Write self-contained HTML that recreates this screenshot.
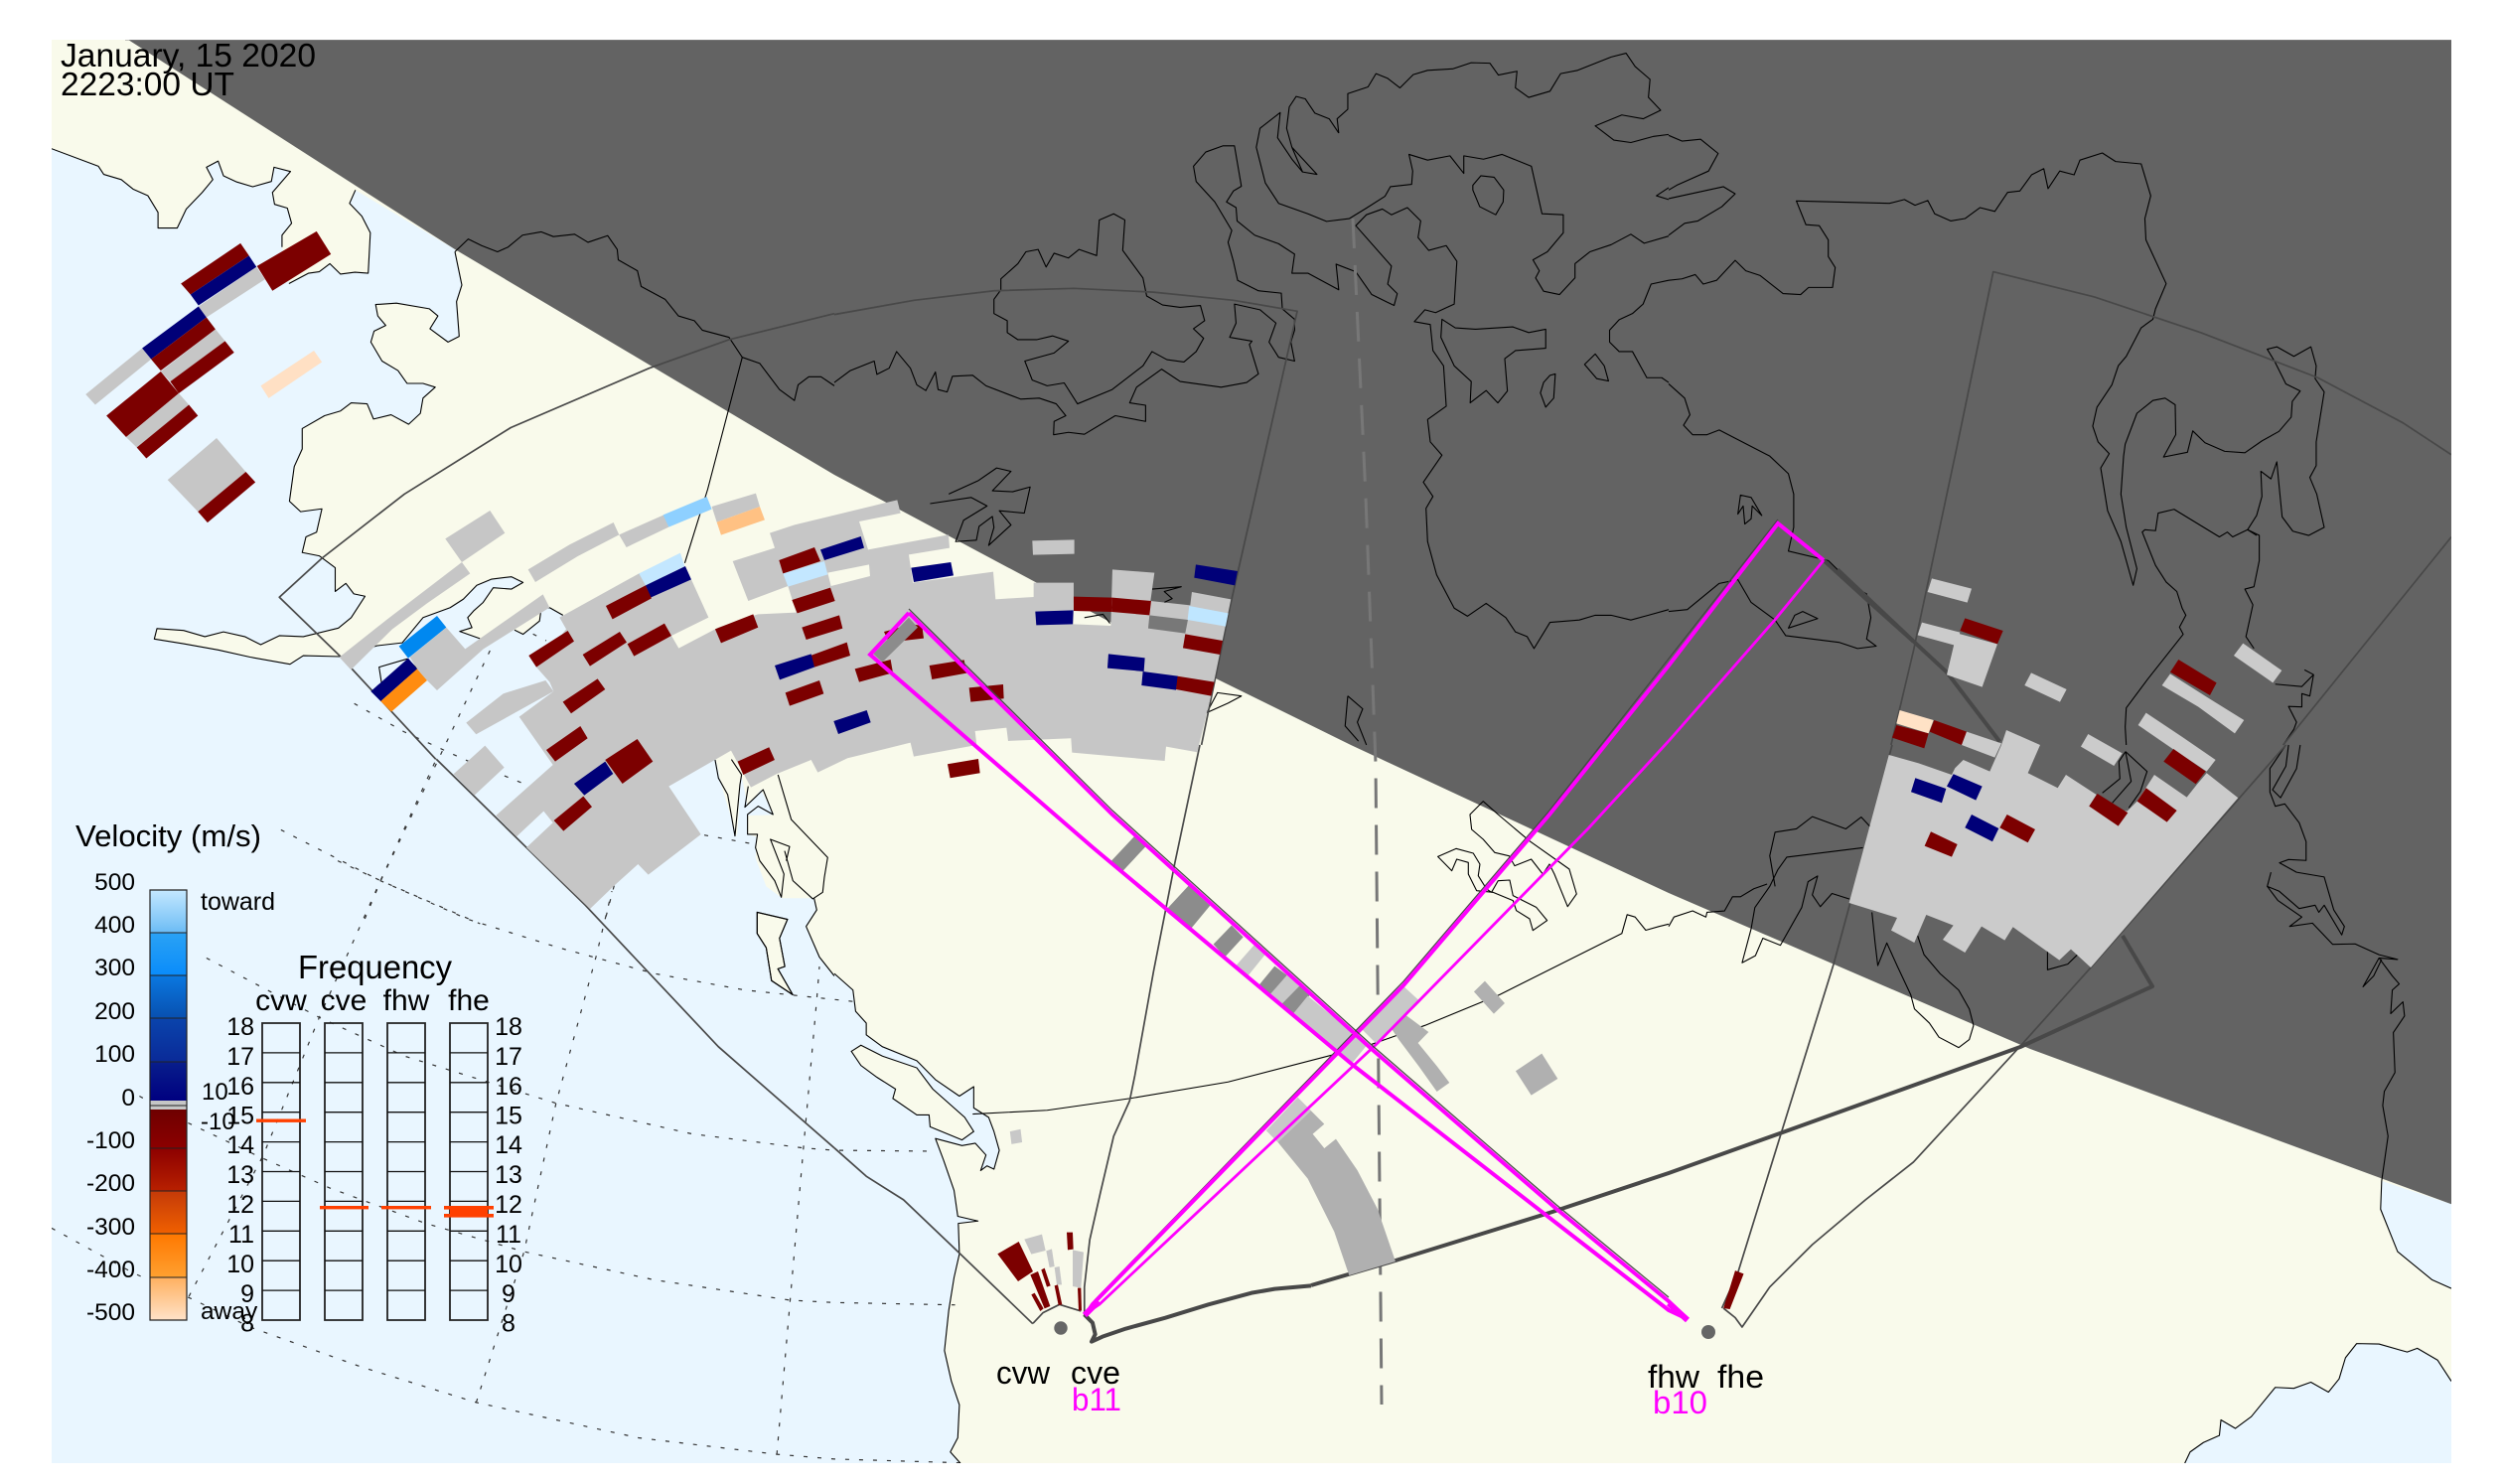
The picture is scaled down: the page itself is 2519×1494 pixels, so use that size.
<!DOCTYPE html>
<html><head><meta charset="utf-8"><style>
html,body{margin:0;padding:0;background:#fff}
svg{display:block}
svg *{vector-effect:non-scaling-stroke}
text{font-family:"Liberation Sans",sans-serif;fill:#000;stroke:none}
.o{fill:#e9f6ff;stroke:none}
.c polyline,.c polygon{fill:none;stroke:#000;stroke-width:1.1;stroke-linejoin:round}
.l{fill:#f9faeb;stroke:#000;stroke-width:1.1}
.d polyline{fill:none;stroke:#333;stroke-width:1.2;stroke-dasharray:4 10}
.f polyline{fill:none;stroke:#484848;stroke-width:1.7;stroke-linejoin:round}
.t polyline{fill:none;stroke:#484848;stroke-width:4;stroke-linejoin:round}
.r{fill:#7c0000}.n{fill:#000078}.g{fill:#c6c6c6}.h{fill:#cbcbcb}.b{fill:#b0b0b0}.k{fill:#8c8c8c}.y{fill:#f9faeb}
.m{fill:none;stroke:#ff00ff;stroke-linejoin:miter}
</style></head><body>
<svg width="2519" height="1494" viewBox="0 0 2519 1494" xmlns="http://www.w3.org/2000/svg">
<defs>
<linearGradient id="a1" x1="0" y1="0" x2="0" y2="1"><stop offset="0" stop-color="#c4e8ff"/><stop offset="1" stop-color="#6cbcf5"/></linearGradient>
<linearGradient id="a2" x1="0" y1="0" x2="0" y2="1"><stop offset="0" stop-color="#2aa2f5"/><stop offset="1" stop-color="#0a8cfa"/></linearGradient>
<linearGradient id="a3" x1="0" y1="0" x2="0" y2="1"><stop offset="0" stop-color="#0a78e0"/><stop offset="1" stop-color="#0850b0"/></linearGradient>
<linearGradient id="a4" x1="0" y1="0" x2="0" y2="1"><stop offset="0" stop-color="#0a44ac"/><stop offset="1" stop-color="#0a2a98"/></linearGradient>
<linearGradient id="a5" x1="0" y1="0" x2="0" y2="1"><stop offset="0" stop-color="#081e8c"/><stop offset="1" stop-color="#000080"/></linearGradient>
<linearGradient id="a6" x1="0" y1="0" x2="0" y2="1"><stop offset="0" stop-color="#6e0000"/><stop offset="1" stop-color="#8c0000"/></linearGradient>
<linearGradient id="a7" x1="0" y1="0" x2="0" y2="1"><stop offset="0" stop-color="#8c0000"/><stop offset="1" stop-color="#b82000"/></linearGradient>
<linearGradient id="a8" x1="0" y1="0" x2="0" y2="1"><stop offset="0" stop-color="#c43a08"/><stop offset="1" stop-color="#f06000"/></linearGradient>
<linearGradient id="a9" x1="0" y1="0" x2="0" y2="1"><stop offset="0" stop-color="#ff7800"/><stop offset="1" stop-color="#ffa030"/></linearGradient>
<linearGradient id="a10" x1="0" y1="0" x2="0" y2="1"><stop offset="0" stop-color="#ffb060"/><stop offset="1" stop-color="#ffe2c8"/></linearGradient>
<clipPath id="plot"><rect x="52" y="40" width="2416" height="1433"/></clipPath>
</defs>
<g clip-path="url(#plot)">
<rect x="52" y="40" width="2416" height="1433" fill="#f9faeb"/>
<!-- oceans -->
<g transform="translate(0,0) scale(.5357,.4783)"><polygon class="o" points="97,313 185,350 195,367 228,378 250,398 278,412 297,447 297,480 333,480 350,440 380,405 400,378 388,352 410,339 420,370 445,383 475,393 510,382 515,352 546,361 512,405 516,430 540,438 548,470 530,495 530,520 543,597 580,575 600,572 620,555 640,577 667,573 692,575 696,490 680,455 657,428 668,400 855,525 868,600 858,635 863,708 842,720 808,692 823,665 807,650 745,638 706,641 710,665 725,685 703,697 697,720 718,760 748,780 765,807 795,807 818,815 795,838 790,870 768,893 735,873 702,882 690,850 660,848 640,865 610,875 568,902 568,945 553,982 544,1055 565,1077 605,1071 595,1120 575,1130 568,1163 600,1170 630,1195 630,1245 650,1228 665,1250 686,1255 660,1300 636,1322 570,1340 525,1338 490,1357 460,1340 420,1330 385,1340 345,1327 295,1323 290,1345 345,1355 410,1368 470,1383 545,1398 570,1380 640,1382 709,1359 756,1353 795,1300 846,1279 871,1261 896,1232 924,1219 961,1214 983,1226 961,1240 927,1237 908,1268 890,1286 879,1300 887,1321 864,1329 902,1344 967,1326 983,1335 1014,1307 1017,1282 1033,1279 1058,1295 1058,1570 97,1570"/></g>
<polygon class="o" points="566,619 720,764 566,764"/>
<g transform="translate(0,750) scale(.5357,.4745)"><polygon class="o" points="97,-2 1058,-2 1345,30 1357,90 1385,195 1393,60 1405,130 1430,95 1455,148 1405,150 1405,190 1422,195 1420,240 1440,300 1470,325 1530,325 1535,350 1515,385 1540,450 1568,490 1570,1526 97,1526"/>
<polygon class="l" points="1423,355 1480,370 1465,410 1475,470 1462,475 1490,530 1450,500 1440,430 1423,400"/></g>
<g transform="translate(840,750) scale(.5357,.4745)"><polygon class="o" points="-2,485 35,520 40,565 60,590 60,615 90,640 155,670 190,710 235,745 262,725 262,770 290,790 300,820 310,860 300,900 287,893 275,903 285,870 265,845 240,850 190,835 205,880 225,945 232,1000 270,1010 233,1015 235,1080 225,1130 215,1200 207,1285 220,1350 235,1400 232,1470 218,1500 237,1526 -2,1526"/>
<polygon class="l" points="32,650 50,637 90,660 155,685 185,730 245,790 262,820 240,838 180,810 178,785 155,785 110,750 115,730 80,705 50,680"/></g>
<g transform="translate(1680,750) scale(.5357,.4745)"><polygon class="o" points="1473,975 1340,925 1338,985 1370,1075 1435,1135 1473,1153"/>
<polygon class="o" points="970,1526 980,1500 1005,1480 1035,1465 1038,1432 1065,1450 1095,1425 1140,1363 1175,1365 1207,1352 1240,1373 1260,1345 1272,1300 1293,1270 1335,1271 1388,1288 1407,1280 1445,1305 1473,1350 1473,1526"/></g>
<!-- dashed grid -->
<g class="d" transform="translate(0,750) scale(.5357,.4745)">
<polyline points="528,180 715,288 880,370 1050,430 1230,485 1400,520 1568,540 1610,545"/>
<polyline points="388,452 600,578 760,660 1045,760 1300,825 1510,855 1568,860 1760,862"/>
<polyline points="262,745 350,800 490,875 620,940 800,1015 985,1075 1230,1135 1485,1178 1568,1183 1795,1188"/>
<polyline points="97,1025 250,1120 360,1175 470,1235 680,1320 895,1395 1200,1470 1460,1505 1568,1515 1805,1523"/>
<polyline points="355,1170 495,870 600,578 715,288 820,30"/>
<polyline points="895,1395 985,1075 1045,760 1120,450 1150,310"/>
<polyline points="1460,1505 1485,1178 1510,855 1535,540 1540,470"/>
</g>
<g class="d" transform="translate(340,490) scale(.3333)">
<polyline points="50,655 200,740 385,825 570,900 1095,1050 1260,1080"/>
<polyline points="0,1130 130,1190 430,1320"/>
<polyline points="460,495 320,790 130,1190 80,1310"/>
<polyline points="590,445 630,465"/>
<polyline points="835,1205 810,1300"/>
</g>
<!-- night -->
<polygon points="126,38 458,251 840,478 1226,684 1360,750 1680,899 2044,1056 2470,1213 2470,38" fill="#636363"/>
<line x1="126" y1="40" x2="2468" y2="40" stroke="#8a8a8a" stroke-width="1"/>
<!-- coasts -->
<g class="c" transform="translate(0,0) scale(.5357,.4783)">
<polyline points="97,313 185,350 195,367 228,378 250,398 278,412 297,447 297,480 333,480 350,440 380,405 400,378 388,352 410,339 420,370 445,383 475,393 510,382 515,352 546,361 512,405 516,430 540,438 548,470 530,495 530,520"/>
<polyline points="543,597 580,575 600,572 620,555 640,577 667,573 692,575 696,490 680,455 657,428 668,400"/>
<polyline points="855,530 868,600 858,635 863,708 842,720 808,692 823,665 807,650 745,638 706,641 710,665 725,685 703,697 697,720 718,760 748,780 765,807 795,807 818,815 795,838 790,870 768,893 735,873 702,882 690,850 660,848 640,865 610,875 568,902 568,945 553,982 544,1055 565,1077 605,1071 595,1120 575,1130 568,1163 600,1170 630,1195 630,1245 650,1228 665,1250 686,1255 660,1300 636,1322 570,1340 525,1338 490,1357 460,1340 420,1330 385,1340 345,1327 295,1323 290,1345 345,1355 410,1368 470,1383 545,1398 570,1380 640,1382 709,1359 756,1353 795,1300 846,1279 871,1261 896,1232 924,1219 961,1214 983,1226 961,1240 927,1237 908,1268 890,1286 879,1300 887,1321 864,1329 902,1344"/>
<polyline points="967,1326 983,1335 1014,1307 1017,1282 1033,1279 1058,1295"/>
<polyline points="855,530 880,503 905,517 935,530 955,520 982,495 1017,488 1040,498 1080,493 1105,510 1142,496 1160,525 1162,547 1198,570 1205,603 1250,630 1275,665 1305,675 1320,695 1370,710 1395,752 1428,765 1465,820 1493,843 1500,810 1520,793 1543,793 1568,812"/>
<polyline points="1395,752 1330,1030 1287,1185"/>
</g>
<g class="c" transform="translate(340,490) scale(.3333)"><polygon class="l" points="125,545 210,520 240,550 130,640 132,590"/></g>
<g class="c" transform="translate(840,0) scale(.5357,.4783)">
<polyline points="0,805 30,780 75,760 80,788 103,775 117,740 143,775 155,810 172,822 190,783 195,820 212,825 222,792 260,790 285,812 350,840 385,838 417,850 435,875 413,887 412,915 440,910 470,914 528,875 585,887 585,853 555,848 568,815 615,777 650,803 727,815 775,805 797,787 780,725 785,718 743,710 755,680 752,640 800,652 830,680 817,720 835,752 865,760 858,720 865,695 865,672 842,650 840,617 797,612 758,590 750,550 740,510 747,485 715,425 680,382 675,350 698,320 730,307 752,307 765,392 750,402 737,425 755,437 757,465 790,495 835,513 865,535 860,575 890,575 948,610 943,556 980,572 1010,620 1052,643 1058,618 1040,598 1047,560 980,475 1000,452 1030,440 1047,452 1077,437 1102,465 1097,500 1117,527 1150,517 1170,550 1165,640 1130,658 1110,652 1090,677 1120,683 1125,738 1145,770 1150,855 1115,883 1120,930 1142,958 1107,1015 1125,1045 1112,1070 1115,1140 1132,1210 1165,1280 1190,1297 1225,1270 1262,1300 1280,1330 1302,1340 1315,1365 1345,1310 1400,1305 1430,1295 1460,1295 1497,1305 1530,1295 1568,1283"/>
<polygon points="313,610 300,630 300,660 325,675 325,700 345,715 380,715 410,707 440,718 413,743 358,760 372,800 400,812 432,806 457,850 522,820 580,770 597,740 625,757 657,762 680,740 694,712 675,692 696,675 688,643 650,647 617,642 587,623 580,585 542,527 546,463 525,450 498,463 493,538 460,525 440,543 413,533 398,562 383,525 360,530 345,555 313,587"/>
<polyline points="948,280 945,250 965,230 965,197 1003,183 1018,155 1040,165 1063,185 1088,157 1115,148 1162,145 1197,132 1232,133 1248,158 1283,150 1280,185 1305,205 1345,192 1365,155 1397,148 1460,120 1488,112 1505,140 1533,167 1530,205 1553,232 1520,250 1480,242 1430,265 1465,295 1497,300 1540,287 1568,283"/>
<polyline points="948,280 930,250 903,238 885,208 868,203 855,225 850,270 860,310 880,362 907,367 860,310"/>
<polyline points="880,362 860,335 833,290 838,237 800,270 793,310 810,385 835,428 890,450 925,466 968,460 1000,438 1035,413 1045,393 1085,388 1087,360 1080,325 1115,337 1157,328 1183,365 1183,328 1220,335 1255,325 1310,350 1330,450 1370,452 1370,490 1340,530 1313,547 1325,570 1318,585 1333,613 1363,620 1392,585 1392,555 1420,530 1460,515 1497,493 1522,512 1568,497"/>
<polygon points="1200,390 1215,370 1240,373 1258,400 1257,425 1243,452 1213,435 1200,400"/>
<polyline points="1568,395 1545,412 1568,420"/>
<polygon points="1142,672 1140,710 1165,770 1197,803 1195,848 1225,822 1247,848 1265,823 1260,755 1280,738 1337,733 1337,693 1305,700 1275,688 1205,693 1167,690"/>
<polygon points="1410,767 1430,745 1447,770 1455,802 1433,797"/>
<polygon points="1345,790 1355,787 1352,838 1337,857 1327,827 1333,805"/>
<polyline points="1568,590 1535,598 1520,640 1500,660 1475,673 1457,695 1457,720 1475,740 1500,740 1527,795 1555,795 1568,805"/>
<polyline points="180,1060 257,1047 287,1065 243,1095 228,1140 267,1137 272,1108 297,1087 300,1110 290,1148 332,1105 310,1075 357,1080 368,1025 335,1035 297,1033 332,992 305,985 270,1012 215,1040"/>
<polyline points="597,1240 652,1235 620,1245 635,1260 620,1268"/>
<polyline points="965,1465 993,1492 983,1520 1000,1568"/>
<polyline points="965,1465 960,1528 985,1560"/>
<polyline points="470,1300 505,1293 518,1312"/>
<polyline points="700,1500 720,1458 765,1465 740,1480 700,1500"/>
</g>
<g class="c" transform="translate(1680,0) scale(.5357,.4783)">
<polyline points="0,285 25,297 60,293 93,323 75,360 15,390 0,400"/>
<polyline points="0,418 103,393 125,408 100,435 55,465 30,470 0,495"/>
<polyline points="0,808 30,838 40,873 28,895 45,915 72,915 95,905 190,960 225,997 235,1040 235,1110 225,1160 300,1180 355,1240 372,1250 380,1300 372,1345 390,1360 355,1365 320,1352 220,1338 200,1305 155,1268 130,1220 95,1228 35,1283 0,1287"/>
<polyline points="0,590 25,587 50,578 65,598 90,590 125,548 145,570 172,580 215,618 248,620 263,605 308,605 313,563 300,540 300,505 283,475 258,473 240,423 415,428 443,420 463,432 487,422 500,450 530,465 557,460 585,437 613,445 637,405 660,402 682,368 705,355 713,397 735,360 762,368 773,337 815,322 840,340 888,345 906,412 895,460 897,505 935,597 915,650 910,672 888,690 860,750 845,770 833,810 805,857 797,897 807,930 828,955 812,985 825,1075 850,1140 873,1232 880,1197 860,1110 850,1040 855,960 858,935 880,870 910,843 933,838 952,852 953,915 930,962 975,952 985,907 1008,932 1045,950 1083,953 1115,928 1147,908 1170,878 1172,845 1187,823 1160,808 1140,763 1125,735 1143,730 1175,750 1207,730 1217,770 1215,797 1232,825 1217,930 1217,980 1205,1005 1218,1040 1232,1110 1203,1127 1173,1118 1153,1088 1147,1020 1143,972 1132,1008 1113,992 1115,1045 1105,1085 1088,1115 1110,1127 1110,1180 1100,1235 1083,1240 1098,1273 1085,1340 1100,1365"/>
<polyline points="1195,1410 1212,1420 1205,1465 1190,1460 1190,1488 1165,1487 1180,1520 1175,1535 1155,1568"/>
<polyline points="1140,1440 1190,1445 1212,1420"/>
<polyline points="1105,1127 1088,1115 1060,1130 1050,1120 1035,1130 950,1072 920,1080 915,1117 895,1115 890,1120 915,1190 935,1225 955,1245 965,1280 972,1295 960,1320 967,1335 900,1430 860,1490 858,1530 860,1568"/>
<polygon points="135,1042 155,1047 175,1085 157,1065 155,1092 143,1103 140,1065 130,1082"/>
<polygon points="225,1322 237,1295 252,1287 280,1302"/>
</g>
<g class="c" transform="translate(1680,750) scale(.5357,.4745)">
<polyline points="1160,0 1130,50 1130,100 1140,130 1158,125 1185,165 1198,205 1198,245 1165,243 1148,250 1180,270 1232,280 1250,350 1270,385 1265,403 1232,340 1222,355 1215,340 1185,347 1147,310 1125,300 1132,270"/>
<polyline points="1125,300 1145,330 1190,365 1167,385 1210,378 1248,423 1290,422 1335,445 1370,455 1335,452 1305,513 1325,490 1340,455"/>
<polyline points="1335,452 1360,490 1373,507 1360,520 1357,570 1380,545 1383,575 1362,610 1365,695 1345,735 1342,765 1352,830 1340,925 1338,985 1370,1075 1435,1135 1471,1153"/>
<polyline points="1165,0 1160,45 1135,95 1150,112 1180,50 1187,0"/>
<polyline points="970,1524 980,1500 1005,1480 1035,1465 1038,1432 1065,1450 1095,1425 1140,1363 1175,1365 1207,1352 1240,1373 1260,1345 1272,1300 1293,1270 1335,1271 1388,1288 1407,1280 1445,1305 1471,1350"/>
<polyline points="365,218 222,238 205,265 190,300 162,345 155,390 138,462 163,447 177,410 210,425 250,345 262,290 280,278 270,318 285,343 307,315 340,327"/>
<polyline points="200,300 190,235 200,185 240,178 270,152 333,178 362,153 380,175"/>
<polyline points="0,385 10,365 45,352 70,365 72,355 105,352 120,322 135,322 160,305 185,295"/>
<polyline points="382,355 388,420 393,468 410,420 430,470 455,530 462,560 490,590 508,620 545,642 565,625 573,595 565,560 545,520 510,485 480,445 468,405"/>
<polyline points="712,435 712,477 750,465 770,443"/>
</g>
<g class="c" transform="translate(1850,560) scale(.3333)">
<polyline points="870,590 935,650 915,710 880,760"/><polyline points="870,590 850,620 853,672 800,715"/><polyline points="870,590 887,680 830,745"/>
</g>
<g class="c" transform="translate(340,490) scale(.3333)">
<polyline points="1140,825 1150,880 1178,930 1200,1055 1215,900 1220,870 1190,825 1220,870"/>
<polyline points="1330,870 1370,1005 1480,1120 1470,1180 1465,1225 1435,1245 1375,1190 1350,1100"/>
<polyline points="1240,905 1230,968 1285,915 1315,990 1270,965 1238,990 1238,1050 1268,1050 1262,1090 1275,1130 1320,1190 1340,1240 1348,1170 1307,1065 1365,1087 1355,1130"/>
</g>
<g class="c" transform="translate(0,750) scale(.5357,.4745)">
<polygon fill="none" points="1423,355 1480,370 1465,410 1475,470 1462,475 1490,530 1450,500 1440,430 1423,400"/>
<polyline points="1530,325 1535,350 1515,385 1540,450 1568,490"/>
</g>
<g class="c" transform="translate(840,750) scale(.5357,.4745)">
<polyline points="0,485 35,520 40,565 60,590 60,615 90,640 155,670 190,710 235,745 262,725 262,770 290,790 300,820 310,860 300,900 287,893 275,903 285,870 265,845 240,850 190,835 205,880 225,945 232,1000 270,1010 233,1015 235,1080 225,1130 215,1200 207,1285 220,1350 235,1400 232,1470 218,1500 237,1524"/>
<polyline points="260,783 400,775 555,750 740,715 945,655"/>
<polyline points="1010,635 1110,595 1250,530 1480,400 1490,360 1505,365 1525,393 1550,385 1568,380"/>
</g>
<g class="c" transform="translate(1100,820) scale(.3333)">
<polygon points="1225,0 1320,80 1440,165 1462,240 1435,278 1395,180 1380,150 1360,180 1325,135 1275,155 1258,125 1215,115 1180,75 1145,45 1140,0 1180,-40"/>
<polygon points="1043,127 1098,103 1150,117 1170,150 1165,185 1190,225 1205,235 1225,200 1260,198 1270,245 1340,280 1373,320 1330,350 1320,315 1280,290 1270,260 1210,235 1160,230 1135,180 1135,145 1100,135 1085,170"/>
</g>
<!-- centre dashed line -->
<polyline points="1362,220 1375,500 1385,769 1391,1414" fill="none" stroke="#777" stroke-width="3" stroke-dasharray="30 17"/>
<!-- FOV lines -->
<g class="f" transform="translate(0,0) scale(.5357,.4783)"><polyline points="819,1598 640,1382 525,1257 605,1175 760,1040 960,900 1220,775 1370,715 1568,660"/></g>
<g class="f" transform="translate(840,0) scale(.5357,.4783)"><polyline points="0,662 150,632 300,612 450,607 600,615 750,632 870,655 745,1270 690,1568"/></g>
<g class="f" transform="translate(840,750) scale(.5357,.4745)"><polyline points="373,1228 235,1078 130,965 60,915 0,855"/><polyline points="687,0 640,250 600,480 565,700 555,755 525,830 500,950 480,1050 470,1150 470,1210"/></g>
<g class="f" transform="translate(0,750) scale(.5357,.4745)"><polyline points="820,30 1100,340 1350,640 1568,855"/></g>
<g class="f" transform="translate(960,1200) scale(.3333)"><polyline points="240,397 270,365 320,340 385,360"/></g>
<g class="f" transform="translate(1680,0) scale(.5357,.4783)"><polyline points="418,1568 460,1370 540,950 610,572 800,625 1000,700 1220,795 1380,890 1471,957"/><polyline points="1471,1130 1155,1568"/></g>
<g class="f" transform="translate(1680,750) scale(.5357,.4745)"><polyline points="100,1195 130,1120 310,465 340,340 420,0"/><polyline points="1160,0 795,470 660,640 460,885 370,965 270,1060 190,1150 138,1235 125,1215 103,1195"/></g>
<g class="t" transform="translate(960,1200) scale(.3333)"><polyline points="395,370 420,395 428,430 417,452 450,437 520,413 640,380 770,340 900,305 970,293 1080,283"/></g>
<g class="t"><polyline points="1320,1294 1405,1269 1563,1220 1680,1181 1792,1141 2034,1054 2167,993 2137,942"/></g>
<g class="t" transform="translate(1850,560) scale(.3333)"><polyline points="490,560 330,350 235,262 0,40"/></g>
<g class="t" transform="translate(1680,0) scale(.5357,.4783)"><polyline points="460,1350 380,1270 290,1178"/></g>
<!-- left top echoes -->
<g transform="translate(0,0) scale(.5357,.4783)">
<polygon class="r" points="340,597 452,512 468,538 358,620"/>
<polygon class="n" points="358,620 468,538 482,562 373,643"/>
<polygon class="g" points="373,645 482,562 498,588 388,668"/>
<polygon class="r" points="483,560 595,487 622,535 512,612"/>
<polygon class="n" points="267,733 373,645 388,668 284,756"/>
<polygon class="r" points="284,756 388,668 405,693 302,780"/>
<polygon class="g" points="302,782 405,693 423,718 320,803"/>
<polygon class="r" points="320,803 423,718 440,742 336,828"/>
<polygon class="g" points="161,830 267,733 284,756 179,852"/>
<polygon class="r" points="200,875 302,782 336,828 237,920"/>
<polygon class="g" points="237,920 336,828 355,852 257,942"/>
<polygon class="r" points="257,942 355,852 372,875 275,965"/>
<polygon fill="#ffe0c4" points="490,812 590,738 605,762 505,838"/>
<polygon class="g" points="315,1010 407,922 462,993 372,1077"/>
<polygon class="r" points="372,1077 462,993 480,1015 390,1100"/>
</g>
<!-- left main -->
<g transform="translate(340,490) scale(.3333)">
<polygon class="g" points="325,157 460,72 505,140 375,228"/>
<polygon class="g" points="5,515 150,400 375,228 400,262 270,352 165,430 40,553"/>
<polygon class="g" points="575,250 700,175 833,108 850,145 725,210 597,288"/>
<polygon class="g" points="850,145 985,85 1000,122 872,183"/>
<polygon fill="#8ed0ff" points="983,85 1115,30 1130,68 1000,122"/>
<polygon class="g" points="1130,60 1263,20 1275,60 1145,107"/>
<polygon fill="#ffc183" points="1145,107 1275,60 1290,100 1158,146"/>
<polygon fill="#0088f0" points="185,482 300,390 328,425 213,518"/>
<polygon class="n" points="100,618 213,518 240,550 130,648"/>
<polygon fill="#ff8c10" points="130,648 240,550 270,585 162,680"/>
<polygon class="g" points="218,515 328,425 385,490 620,325 640,365 440,490 300,615 270,585 240,550"/>
<polygon class="g" points="388,713 500,625 628,585 652,618 418,748"/>
<polygon class="g" points="350,868 445,782 503,848 413,932"/>
</g>
<g transform="translate(800,490) scale(.3333)">
<polygon class="g" points="-187,225 -60,185 -75,140 0,115 310,40 320,80 195,105 222,190 465,145 468,185 345,205 357,290 600,257 607,340 722,333 722,290 843,290 843,415 955,420 960,250 1087,260 1075,345 1195,358 1200,318 1318,340 1258,632 1216,802 1122,785 1118,828 838,803 835,760 645,768 640,728 545,738 550,780 360,815 350,773 160,820 70,863 50,825 -55,868 -132,908 -192,797 -380,905 -283,1050 -442,1172 -473,1140 -545,1205 -618,1275 -810,1090 -730,1015 -758,980 -840,1057 -902,993 -730,840 -832,695 -728,618 -740,590 -780,545 -690,430 -710,395 -470,262 -312,280 -260,395 -372,450 -350,488 -230,425 -110,385 5,380 -20,300 -140,345"/>
<polygon class="y" points="100,260 225,235 228,270 110,300"/>
<polygon class="g" points="718,163 845,160 845,203 720,206"/>
<polygon class="n" points="1212,235 1338,255 1330,298 1207,275"/>
<polygon class="r" points="843,332 960,335 958,378 843,375"/>
<polygon class="n" points="727,377 842,373 840,415 730,418"/>
<polygon class="r" points="960,335 1077,345 1072,388 958,378"/>
<polygon fill="#787878" points="1072,388 1188,402 1180,443 1068,428"/>
<polygon fill="#bfe6ff" points="1192,360 1310,382 1302,422 1187,402"/>
<polygon class="r" points="1180,445 1293,465 1285,507 1173,487"/>
<polygon class="r" points="1155,572 1268,590 1258,632 1152,612"/>
<polygon class="n" points="1052,558 1157,572 1152,614 1048,600"/>
<polygon class="n" points="948,505 1058,517 1055,558 945,548"/>
<polygon class="n" points="78,190 200,150 210,185 90,222"/>
<polygon fill="#c3e7ff" points="-35,262 90,225 100,265 -20,302"/>
<polygon class="r" points="-47,222 60,183 78,225 -35,262"/>
<polygon class="r" points="-8,342 108,305 122,345 8,382"/>
<polygon class="r" points="22,425 135,388 145,428 35,462"/>
<polygon class="r" points="48,510 158,470 168,510 60,545"/>
<polygon class="n" points="-60,540 50,505 60,545 -45,583"/>
<polygon class="r" points="-28,622 75,585 88,625 -15,662"/>
<polygon class="n" points="118,708 218,675 230,712 132,747"/>
<polygon class="r" points="182,550 290,522 297,562 195,590"/>
<polygon class="r" points="407,540 512,523 520,563 415,582"/>
<polygon class="r" points="527,607 630,597 632,640 532,650"/>
<polygon class="r" points="270,438 355,415 385,420 390,458 285,470"/>
<polygon class="n" points="352,245 472,228 480,268 360,288"/>
<polygon class="r" points="462,838 555,822 560,865 470,880"/>
<polygon class="k" points="238,505 345,395 372,425 265,530"/>
</g>
<g transform="translate(340,490) scale(.3333)">
<polygon fill="#c3e7ff" points="910,262 1035,200 1048,240 930,298"/>
<polygon class="n" points="930,298 1050,240 1068,280 945,335"/>
<polygon class="r" points="810,360 930,298 948,337 830,400"/>
<polygon class="r" points="577,510 695,435 714,467 600,545"/>
<polygon class="r" points="740,507 852,438 873,470 762,542"/>
<polygon class="r" points="875,475 987,413 1008,450 895,512"/>
<polygon class="r" points="680,650 785,580 808,612 705,685"/>
<polygon class="r" points="630,795 733,723 755,760 657,830"/>
<polygon class="r" points="808,825 905,762 952,830 860,897"/>
<polygon class="n" points="714,897 808,830 832,867 745,932"/>
<polygon class="r" points="653,1008 742,935 768,967 682,1040"/>
<polygon class="r" points="1208,830 1303,787 1320,825 1225,870"/>
<polygon class="r" points="1140,430 1255,385 1270,425 1158,472"/>
</g>
<!-- right main -->
<g transform="translate(1850,560) scale(.3333)">
<polygon class="h" points="272,108 285,67 405,98 392,140"/>
<polygon class="h" points="242,238 255,200 370,230 358,270"/>
<polygon class="h" points="360,232 483,265 437,395 330,358"/>
<polygon class="r" points="370,225 385,187 500,225 483,265"/>
<polygon class="h" points="565,390 585,352 692,402 672,440"/>
<polygon fill="#ffe2c6" points="178,505 188,465 290,495 275,535"/>
<polygon class="r" points="165,548 178,510 275,535 262,580"/>
<polygon class="r" points="278,530 292,495 390,530 375,570"/>
<polygon class="h" points="375,570 390,530 495,565 475,608"/>
<polygon class="h" points="155,600 245,625 345,660 355,640 380,615 460,650 495,570 510,525 612,570 575,655 665,700 690,660 782,720 760,755 875,770 905,740 957,660 1055,728 1085,690 1115,655 1210,730 765,1242 705,1187 670,1220 530,1120 505,1160 435,1118 385,1197 318,1158 350,1115 268,1083 232,1167 162,1130 180,1092 35,1047"/>
<polygon class="r" points="760,755 785,717 877,775 848,815"/>
<polygon class="r" points="905,740 932,700 1025,768 995,803"/>
<polygon class="n" points="222,712 235,670 328,702 315,745"/>
<polygon class="n" points="330,695 350,658 437,695 418,737"/>
<polygon class="n" points="385,820 405,780 487,822 468,862"/>
<polygon class="r" points="490,820 512,780 597,825 575,865"/>
<polygon class="r" points="263,875 282,832 362,870 345,908"/>
<polygon class="h" points="735,575 757,537 860,595 835,633"/>
<polygon class="h" points="908,510 932,473 1040,545 1142,615 1115,650 1010,580"/>
<polygon class="r" points="985,620 1015,582 1112,650 1082,688"/>
<polygon class="h" points="980,390 1005,355 1115,425 1228,495 1200,535 1090,455"/>
<polygon class="r" points="1005,350 1030,312 1145,382 1125,420"/>
<polygon class="h" points="1197,300 1225,263 1342,345 1315,382"/>
</g>
<!-- centre cells -->
<g transform="translate(1100,820) scale(.3333)">
<polygon class="b" points="525,955 620,855 700,935 665,965 700,1008 735,980 800,1075 860,1190 915,1350 775,1392 730,1260 650,1100 560,990"/>
<polygon class="b" points="905,650 945,605 1015,657 983,690 1040,760 1078,810 1040,837 985,760 925,680"/>
<polygon class="b" points="1152,535 1185,503 1245,570 1212,602"/>
<polygon class="b" points="1278,775 1357,722 1405,798 1325,848"/>
<polygon fill="#c8c8c8" points="525,955 620,855 660,895 560,990"/>
<polygon fill="#c8c8c8" points="815,650 935,515 990,565 860,695"/>
<polygon class="k" points="57,140 130,62 160,97 90,172"/>
<polygon class="k" points="225,285 290,215 355,275 297,345"/>
<polygon class="k" points="365,392 420,335 455,370 400,430"/>
<polygon fill="#c8c8c8" points="430,460 490,392 522,422 467,490"/>
<polygon class="k" points="503,515 550,458 590,487 535,545"/>
<polygon fill="#c8c8c8" points="535,545 590,482 625,520 570,575"/>
<polygon class="k" points="572,572 625,518 657,545 605,603"/>
<polygon fill="#c8c8c8" points="605,603 650,548 830,695 785,750"/>
</g>
<g transform="translate(840,750) scale(.5357,.4745)"><polygon fill="#c8c8c8" points="330,820 350,815 353,843 333,847"/></g>
<g transform="translate(960,1200) scale(.3333)">
<polygon class="r" points="133,187 197,150 240,240 195,270"/>
<polygon class="r" points="232,250 255,240 292,345 275,352"/>
<polygon class="r" points="235,310 245,305 272,352 262,360"/>
<polygon class="r" points="265,235 275,230 293,283 282,287"/>
<polygon class="r" points="305,283 315,280 328,340 317,342"/>
<polygon class="r" points="375,290 385,290 387,358 378,358"/>
<polygon class="r" points="342,122 360,122 362,173 345,175"/>
<polygon class="g" points="214,143 267,128 278,177 235,188"/>
<polygon class="g" points="280,178 297,172 305,225 290,228"/>
<polygon class="g" points="305,228 320,225 327,280 312,280"/>
<polygon class="g" points="360,175 393,182 385,290 360,285"/>
</g>
<g transform="translate(1680,750) scale(.5357,.4745)"><polygon class="r" points="103,1195 125,1115 141,1122 115,1197"/></g>
<!-- beams -->
<polyline points="1102,1309 1413,988 1560,816 1790,523" fill="none" stroke="#444" stroke-width="1.2"/>
<polyline class="m" stroke-width="2.8" points="1094,1322 1107,1313 1387,1050 1600,833 1680,746 1787,624 1836,564"/>
<polyline class="m" stroke-width="4" points="1094,1322 1100,1313 1413,992 1560,820 1680,670 1790,527 1836,564"/>
<line x1="1092" y1="1324" x2="1106" y2="1310" stroke="#ff00ff" stroke-width="6"/>
<polyline points="915,613 1120,816 1382,1053 1567,1213 1680,1306" fill="none" stroke="#444" stroke-width="1.2"/>
<polyline class="m" stroke-width="4" points="915,617 1120,820 1382,1057 1567,1217 1680,1310 1699,1328 1680,1319 1600,1257 1363,1073 1100,853 876,659 915,617"/>
<line x1="1680" y1="1312" x2="1699" y2="1329" stroke="#ff00ff" stroke-width="6"/>
<!-- radar dots -->
<circle cx="1068" cy="1337" r="6.7" fill="#666"/>
<circle cx="1720" cy="1341" r="7" fill="#666"/>
<!-- colour bar -->
<rect x="151" y="896" width="37" height="43" fill="url(#a1)"/>
<rect x="151" y="939" width="37" height="43" fill="url(#a2)"/>
<rect x="151" y="982" width="37" height="43" fill="url(#a3)"/>
<rect x="151" y="1025" width="37" height="44" fill="url(#a4)"/>
<rect x="151" y="1069" width="37" height="39" fill="url(#a5)"/>
<rect x="151" y="1108" width="37" height="9" fill="#c6c6c6"/>
<rect x="151" y="1117" width="37" height="39" fill="url(#a6)"/>
<rect x="151" y="1156" width="37" height="43" fill="url(#a7)"/>
<rect x="151" y="1199" width="37" height="43" fill="url(#a8)"/>
<rect x="151" y="1242" width="37" height="44" fill="url(#a9)"/>
<rect x="151" y="1286" width="37" height="43" fill="url(#a10)"/>
<path d="M151 939H188M151 982H188M151 1025H188M151 1069H188M151 1113H188M151 1156H188M151 1199H188M151 1242H188M151 1286H188" stroke="#222" stroke-width="1" fill="none"/>
<rect x="151" y="896" width="37" height="433" fill="none" stroke="#222" stroke-width="1.2"/>
<!-- frequency boxes -->
<g fill="none" stroke="#222" stroke-width="1.8">
<rect x="264" y="1030" width="38" height="299"/><rect x="327" y="1030" width="38" height="299"/><rect x="390" y="1030" width="38" height="299"/><rect x="453" y="1030" width="38" height="299"/>
</g>
<path d="M264 1059.9H491M264 1089.8H491M264 1119.7H491M264 1149.6H491M264 1179.5H491M264 1209.4H491M264 1239.3H491M264 1269.2H491M264 1299.1H491" stroke="#111" stroke-width="1.3" stroke-dasharray="38 25" fill="none"/>
<g fill="#ff4000">
<rect x="258" y="1126.5" width="50" height="3.4"/>
<rect x="322" y="1214" width="49" height="3.4"/>
<rect x="384" y="1214" width="50" height="3.4"/>
<rect x="447" y="1214" width="50" height="3.6"/>
<rect x="453" y="1214" width="38" height="11.5"/>
<rect x="447" y="1222" width="50" height="3.6"/>
</g>
</g>
<!-- text -->
<text x="61" y="67" font-size="33" textLength="257" lengthAdjust="spacingAndGlyphs">January, 15 2020</text>
<text x="61" y="96" font-size="33" textLength="175" lengthAdjust="spacingAndGlyphs">2223:00 UT</text>
<text x="76" y="852" font-size="31" textLength="187" lengthAdjust="spacingAndGlyphs">Velocity (m/s)</text>
<g font-size="24.5" text-anchor="end">
<text x="136" y="896">500</text><text x="136" y="939">400</text><text x="136" y="982">300</text><text x="136" y="1026">200</text><text x="136" y="1069">100</text><text x="136" y="1113">0</text><text x="136" y="1156">-100</text><text x="136" y="1199">-200</text><text x="136" y="1243">-300</text><text x="136" y="1286">-400</text><text x="136" y="1329">-500</text>
</g>
<text x="202" y="916" font-size="25">toward</text>
<text x="202" y="1328" font-size="24.5">away</text>
<text x="203" y="1107" font-size="24">10</text>
<text x="202" y="1137" font-size="24">-10</text>
<text x="300" y="985" font-size="33" textLength="155" lengthAdjust="spacingAndGlyphs">Frequency</text>
<g font-size="30" text-anchor="middle">
<text x="283" y="1017">cvw</text><text x="346" y="1017">cve</text><text x="409" y="1017">fhw</text><text x="472" y="1017">fhe</text>
</g>
<g font-size="25" text-anchor="end">
<text x="256" y="1042">18</text><text x="256" y="1072">17</text><text x="256" y="1102">16</text><text x="256" y="1131.5">15</text><text x="256" y="1161">14</text><text x="256" y="1191">13</text><text x="256" y="1221">12</text><text x="256" y="1251">11</text><text x="256" y="1281">10</text><text x="256" y="1311">9</text><text x="256" y="1340.5">8</text>
</g>
<g font-size="25" text-anchor="middle">
<text x="512" y="1042">18</text><text x="512" y="1072">17</text><text x="512" y="1102">16</text><text x="512" y="1131.5">15</text><text x="512" y="1161">14</text><text x="512" y="1191">13</text><text x="512" y="1221">12</text><text x="512" y="1251">11</text><text x="512" y="1281">10</text><text x="512" y="1311">9</text><text x="512" y="1340.5">8</text>
</g>
<text x="1003" y="1393" font-size="32" textLength="54" lengthAdjust="spacingAndGlyphs">cvw</text>
<text x="1078" y="1393" font-size="32" textLength="50" lengthAdjust="spacingAndGlyphs">cve</text>
<text x="1079" y="1420" font-size="32" textLength="50" lengthAdjust="spacingAndGlyphs" style="fill:#ff00ff">b11</text>
<text x="1659" y="1397" font-size="32" textLength="52" lengthAdjust="spacingAndGlyphs">fhw</text>
<text x="1729" y="1397" font-size="32" textLength="47" lengthAdjust="spacingAndGlyphs">fhe</text>
<text x="1664" y="1423" font-size="32" textLength="55" lengthAdjust="spacingAndGlyphs" style="fill:#ff00ff">b10</text>
</svg>
</body></html>
